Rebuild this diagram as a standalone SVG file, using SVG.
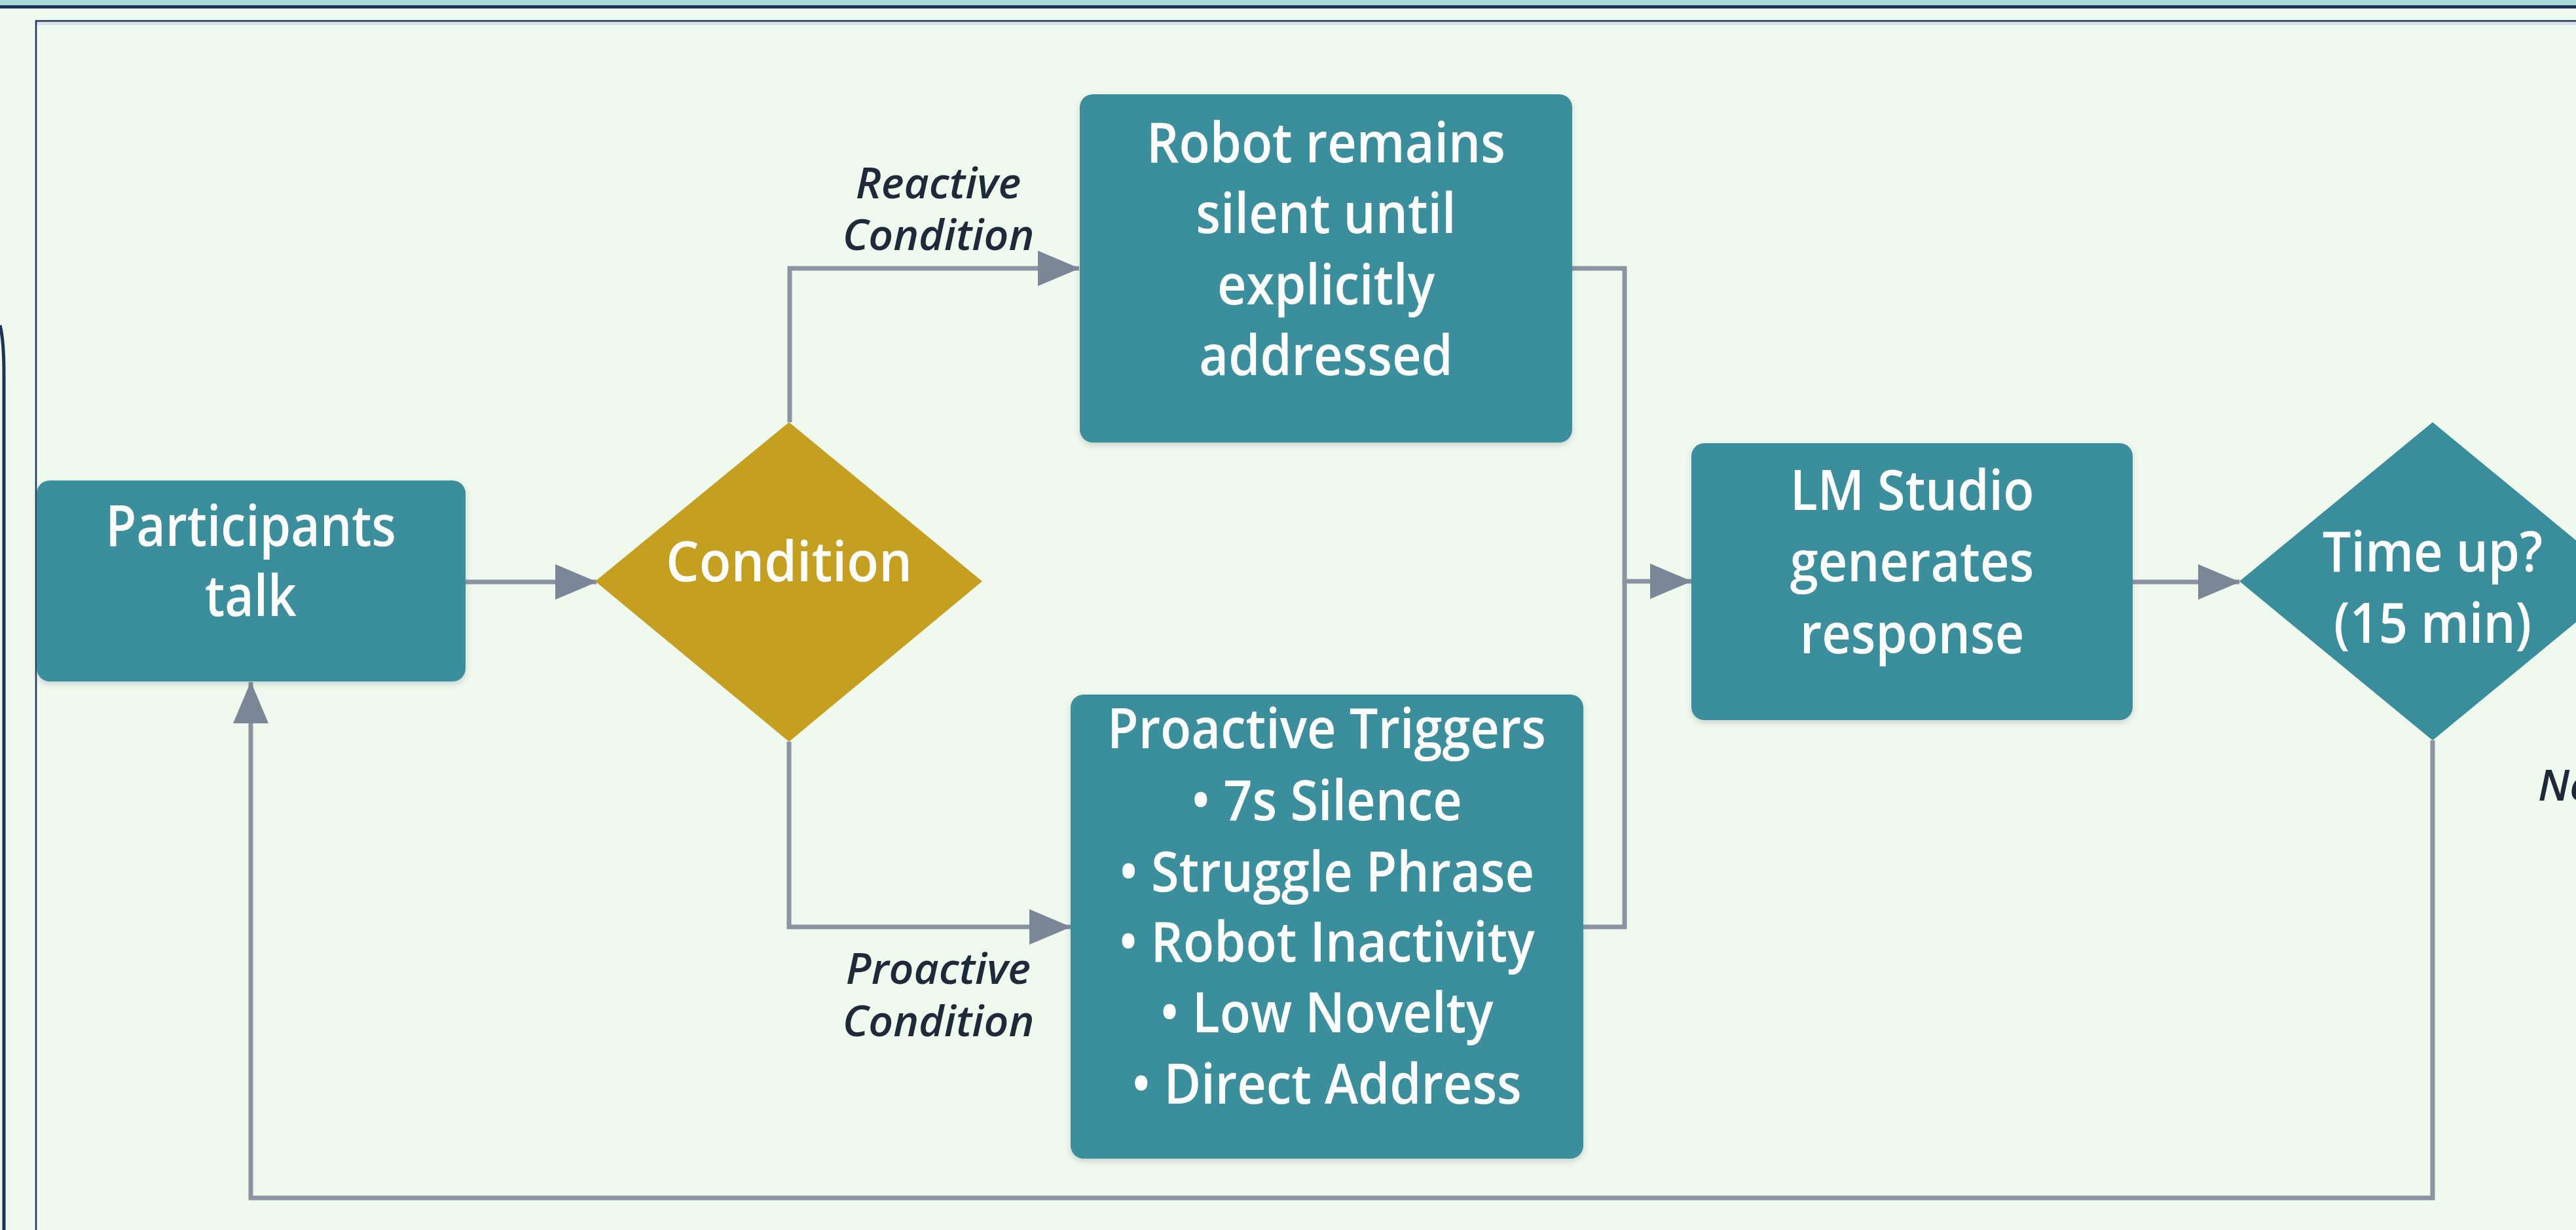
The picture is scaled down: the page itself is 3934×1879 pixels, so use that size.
<svg xmlns="http://www.w3.org/2000/svg" width="3934" height="1879" viewBox="0 0 3934 1879">
  <style>
    .box { fill: #3A8E9C; }
    .gold { fill: #C49F20; }
    .teal-d { fill: #3A8E9C; }
    .nt { font-family: "Open Sans", "Noto Sans", sans-serif; font-weight: 600; font-size: 86px; fill: #FFFFFF; text-anchor: middle; }
    .lbl { font-family: "Open Sans", "Noto Sans", sans-serif; font-weight: 600; font-style: italic; font-size: 66px; fill: #1E2A3A; text-anchor: middle; }
    .edge { fill: none; stroke: #8A94A2; stroke-width: 7; stroke-linejoin: miter; }
    .frame { fill: none; stroke: #1D3557; }
  </style>
  <defs>
    <marker id="arrow" markerUnits="userSpaceOnUse" viewBox="0 0 64 54" markerWidth="64" markerHeight="54" refX="63" refY="27" orient="auto">
      <path d="M0,0 L64,27 L0,54 Z" fill="#7B8696"/>
    </marker>
    <filter id="shadow" x="-10%" y="-10%" width="120%" height="130%">
      <feDropShadow dx="0" dy="4" stdDeviation="4" flood-color="#5A6470" flood-opacity="0.25"/>
    </filter>
  </defs>

  <!-- page background and header band -->
  <rect x="0" y="0" width="3934" height="1879" fill="#EFF9EE"/>
  <rect x="0" y="0" width="3934" height="8" fill="#A8DADC"/>
  <rect x="0" y="8" width="3934" height="5" fill="#1D3557"/>

  <!-- outer panel edge and inner frame -->
  <path class="frame" stroke-width="5" d="M0,497 Q6,520 6,573 L6,1879"/>
  <line x1="55" y1="36" x2="3934" y2="36" stroke="#D9DEEA" stroke-width="5"/>
  <path class="frame" stroke-width="2.5" d="M55,1879 L55,32 L3934,32"/>

  <!-- connectors -->
  <g id="connectors">
    <path class="edge" d="M711,889 L911,889" marker-end="url(#arrow)"/>
    <path class="edge" d="M1206,645 L1206,410 L1648,410" marker-end="url(#arrow)"/>
    <path class="edge" d="M1205,1133 L1205,1416 L1635,1416" marker-end="url(#arrow)"/>
    <path class="edge" d="M2401,410 L2481,410 L2481,888 L2583,888" marker-end="url(#arrow)"/>
    <path class="edge" d="M2418,1416 L2481,1416 L2481,888"/>
    <path class="edge" d="M3257,889 L3420,889" marker-end="url(#arrow)"/>
    <path class="edge" d="M3715,1131 L3715,1830 L383,1830 L383,1042" marker-end="url(#arrow)"/>
    <text class="lbl" x="1433" y="303">Reactive</text>
    <text class="lbl" x="1433" y="382">Condition</text>
    <text class="lbl" x="1433" y="1503">Proactive</text>
    <text class="lbl" x="1433" y="1583">Condition</text>
    <text class="lbl" x="3876" y="1223" style="text-anchor:start">No</text>
  </g>

  <g id="participants">
    <rect class="box" x="56" y="734" width="655" height="307" rx="20" filter="url(#shadow)"/>
    <g transform="translate(383,0) scale(0.89,1)">
      <text class="nt" x="0" y="834">Participants</text>
      <text class="nt" x="0" y="941">talk</text>
    </g>
  </g>

  <g id="condition">
    <polygon class="gold" points="1205,645 1500,888 1205,1133 909,888"/>
    <g transform="translate(1205,0) scale(0.93,1)">
      <text class="nt" x="0" y="888">Condition</text>
    </g>
  </g>

  <g id="reactive">
    <rect class="box" x="1649" y="144" width="752" height="532" rx="20" filter="url(#shadow)"/>
    <g transform="translate(2025,0) scale(0.9,1)">
      <text class="nt" x="0" y="248">Robot remains</text>
      <text class="nt" x="0" y="356">silent until</text>
      <text class="nt" x="0" y="465">explicitly</text>
      <text class="nt" x="0" y="573">addressed</text>
    </g>
  </g>

  <g id="proactive">
    <rect class="box" x="1635" y="1061" width="783" height="709" rx="20" filter="url(#shadow)"/>
    <g transform="translate(2026,0) scale(0.9,1)">
      <text class="nt" x="0" y="1143">Proactive Triggers</text>
      <text class="nt" x="0" y="1253">• 7s Silence</text>
      <text class="nt" x="0" y="1362">• Struggle Phrase</text>
      <text class="nt" x="0" y="1469">• Robot Inactivity</text>
      <text class="nt" x="0" y="1577">• Low Novelty</text>
      <text class="nt" x="0" y="1686">• Direct Address</text>
    </g>
  </g>

  <g id="lmstudio">
    <rect class="box" x="2583" y="677" width="674" height="423" rx="20" filter="url(#shadow)"/>
    <g transform="translate(2920,0) scale(0.9,1)">
      <text class="nt" x="0" y="779">LM Studio</text>
      <text class="nt" x="0" y="888">generates</text>
      <text class="nt" x="0" y="998">response</text>
    </g>
  </g>

  <g id="timeup">
    <polygon class="teal-d" points="3715,645 4010,888 3715,1131 3420,888"/>
    <g transform="translate(3715,0) scale(0.9,1)">
      <text class="nt" x="0" y="873">Time up?</text>
      <text class="nt" x="0" y="982">(15 min)</text>
    </g>
  </g>
</svg>
